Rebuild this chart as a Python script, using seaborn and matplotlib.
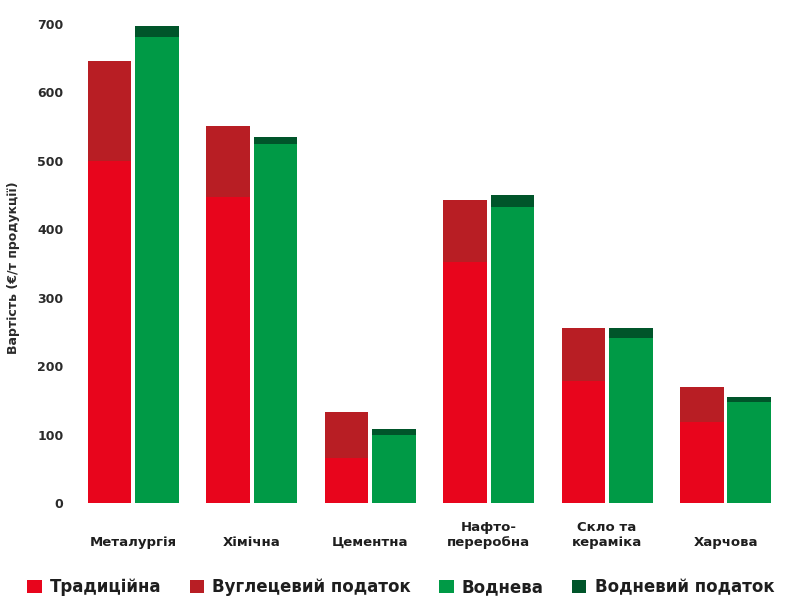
import matplotlib
matplotlib.use("Agg")
import matplotlib.pyplot as plt
import seaborn as sns
import pandas as pd
from matplotlib.patches import Patch

# ---- data ----
industries = ["Металургія", "Хімічна", "Цементна", "Нафто-\nпереробна", "Скло та\nкераміка", "Харчова"]
traditional = [500, 447, 65, 352, 178, 118]
carbon_tax = [145, 103, 68, 90, 78, 52]
hydrogen = [680, 524, 100, 432, 241, 148]
hydrogen_tax = [16, 10, 8, 18, 15, 7]
yticks = [0, 100, 200, 300, 400, 500, 600, 700]
legend_labels = ["Традиційна", "Вуглецевий податок", "Воднева", "Водневий податок"]
ylabel = "Вартість (€/т продукції)"

c_red = "#E8051C"
c_dred = "#B81E24"
c_green = "#009A46"
c_dgreen = "#00552A"

sns.set_theme(style="white")
plt.rcParams["font.family"] = ["DejaVu Sans"]

df_total = pd.DataFrame({
    "industry": industries * 2,
    "kind": ["trad"] * len(industries) + ["h2"] * len(industries),
    "value": [t + c for t, c in zip(traditional, carbon_tax)] + [h + x for h, x in zip(hydrogen, hydrogen_tax)],
})
df_base = pd.DataFrame({
    "industry": industries * 2,
    "kind": ["trad"] * len(industries) + ["h2"] * len(industries),
    "value": traditional + hydrogen,
})

fig = plt.figure(figsize=(7.86, 5.97), dpi=100)
ax = fig.add_axes([80 / 786, (597 - 503) / 597, 700 / 786, 493 / 597])

sns.barplot(data=df_total, x="industry", y="value", hue="kind", order=industries,
            hue_order=["trad", "h2"], palette={"trad": c_dred, "h2": c_dgreen},
            width=0.8, gap=0.08, dodge=True, ax=ax, legend=False, saturation=1,
            edgecolor="none", linewidth=0)
sns.barplot(data=df_base, x="industry", y="value", hue="kind", order=industries,
            hue_order=["trad", "h2"], palette={"trad": c_red, "h2": c_green},
            width=0.8, gap=0.08, dodge=True, ax=ax, legend=False, saturation=1,
            edgecolor="none", linewidth=0)

ax.set_xlim(-0.45, 5.46)
ax.set_ylim(0, 720)
ax.set_yticks(yticks)
ax.set_yticklabels([str(v) for v in yticks], fontsize=9, fontweight="bold", color="#2a2a2a")
ax.set_xticks(range(len(industries)))
ax.set_xticklabels(industries, fontsize=9.5, fontweight="bold", color="#1e1e1e")
for lbl in ax.get_xticklabels():
    lbl.set_va("bottom")
    lbl.set_multialignment("center")
ax.tick_params(axis="x", length=0, pad=33)
ax.tick_params(axis="y", length=0, pad=12)
ax.set_xlabel("")
ax.set_ylabel(ylabel, fontsize=9, fontweight="bold", color="#2a2a2a")
ax.yaxis.set_label_coords(-0.086, 0.477)
for s in ax.spines.values():
    s.set_visible(False)
ax.grid(False)

handles = [Patch(facecolor=c, edgecolor="none") for c in [c_red, c_dred, c_green, c_dgreen]]
fig.legend(handles, legend_labels, loc="center", bbox_to_anchor=(0.51, 0.016), ncol=4,
           frameon=False, prop={"size": 12, "weight": "bold"}, labelcolor="#1e1e1e",
           handlelength=0.85, handleheight=0.85, handletextpad=0.5, columnspacing=1.7)

fig.savefig("out.png", dpi=100)
